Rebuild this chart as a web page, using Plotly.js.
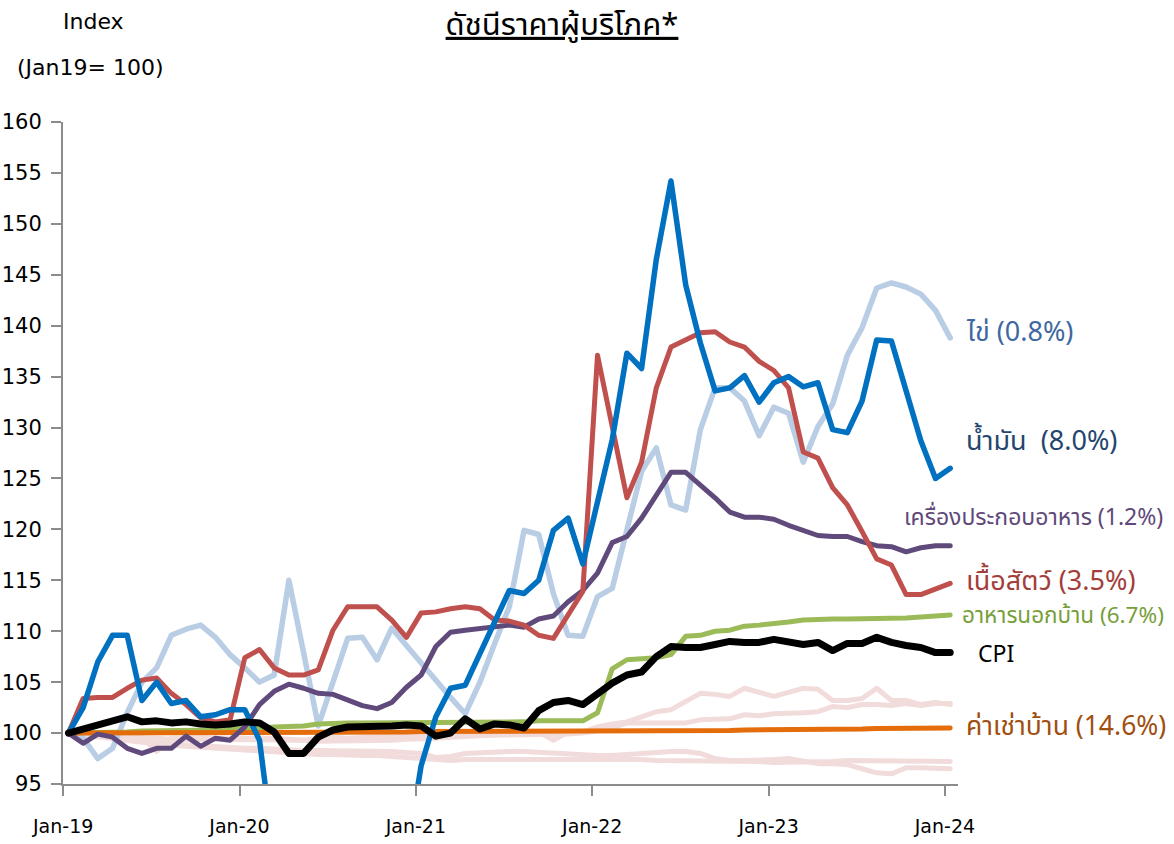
<!DOCTYPE html>
<html>
<head>
<meta charset="utf-8">
<script src="https://cdn.plot.ly/plotly-3.0.1.min.js"></script>
<style>
html,body{margin:0;padding:0;background:#fff;}
#chart{width:1174px;height:844px;}
#chart path.js-line{stroke-linejoin:round !important;stroke-linecap:round !important;}
</style>
</head>
<body>
<div id="chart"></div>
<script>
// ---- data (monthly, Jan-19 .. Jan-24), index Jan19 = 100 ----
const tickLabels = ['Jan-19','Jan-20','Jan-21','Jan-22','Jan-23','Jan-24'];

const cpi = [
 100.0,100.4,100.8,101.2,101.6,101.1,101.2,101.0,101.1,100.9,100.8,100.9,
 101.1,101.0,100.1,98.0,98.0,99.6,100.3,100.6,100.6,100.6,100.7,100.8,
 100.7,99.7,100.0,101.4,100.4,100.9,100.8,100.5,102.2,103.0,103.2,102.8,
 103.9,104.9,105.7,106.0,107.5,108.5,108.4,108.4,108.7,109.0,108.9,108.9,
 109.2,109.0,108.7,108.9,108.1,108.8,108.8,109.4,108.9,108.6,108.4,107.9,
 107.9];

const oil = [
 100.0,102.5,107.0,109.6,109.6,103.2,105.0,102.9,103.2,101.6,101.8,102.3,
 102.3,99.3,88.0,78.0,80.0,84.0,86.0,85.0,84.0,85.0,86.0,88.0,
 96.8,101.6,104.4,104.7,107.8,110.9,114.0,113.7,115.0,119.9,121.1,116.6,
 122.5,128.8,137.3,135.8,146.5,154.2,144.0,138.3,133.6,133.9,135.1,132.5,
 134.4,135.0,134.0,134.4,129.8,129.5,132.6,138.6,138.5,133.7,128.7,125.0,
 126.0];

const meat = [
 100.0,103.4,103.5,103.5,104.4,105.2,105.4,103.9,102.8,101.5,101.1,101.3,
 107.4,108.2,106.4,105.7,105.7,106.2,110.1,112.4,112.4,112.4,111.1,109.4,
 111.8,111.9,112.2,112.4,112.2,111.1,111.0,110.6,109.6,109.3,111.6,113.9,
 137.1,130.3,123.1,126.6,133.9,137.9,138.6,139.3,139.4,138.4,137.9,136.5,
 135.6,133.9,127.6,127.0,124.1,122.4,119.8,117.1,116.5,113.6,113.6,114.2,
 114.7];

const eggs = [
 100.0,99.5,97.5,98.5,102.0,105.0,106.4,109.6,110.2,110.6,109.4,107.7,
 106.4,105.0,105.7,115.0,107.9,100.7,105.0,109.3,109.4,107.2,110.3,108.6,
 106.8,105.0,103.5,101.9,105.0,108.8,112.4,119.9,119.5,113.7,109.6,109.5,
 113.4,114.2,120.0,125.7,128.0,122.4,121.9,129.8,133.9,133.9,132.6,129.2,
 132.0,131.4,126.6,130.1,132.3,137.1,139.8,143.7,144.2,143.8,143.1,141.5,
 138.8];

const seasoning = [
 100.0,99.0,99.9,99.6,98.5,98.0,98.5,98.5,99.7,98.7,99.5,99.3,
 100.6,102.8,104.1,104.8,104.4,103.9,103.8,103.2,102.7,102.4,103.0,104.5,
 105.7,108.5,109.9,110.1,110.3,110.5,110.6,110.4,111.2,111.5,112.9,114.0,
 115.7,118.7,119.3,121.1,123.4,125.6,125.6,124.4,123.1,121.7,121.2,121.2,
 121.0,120.4,119.9,119.4,119.3,119.3,118.8,118.4,118.3,117.8,118.2,118.4,
 118.4];

const foodAway = [
 100.0,100.0,100.1,100.1,100.1,100.2,100.2,100.2,100.3,100.3,100.3,100.4,
 100.4,100.5,100.6,100.6,100.7,100.9,101.0,101.0,101.0,101.0,101.0,101.0,
 101.0,101.0,101.0,101.1,101.1,101.1,101.1,101.1,101.2,101.2,101.2,101.2,
 102.0,106.3,107.2,107.3,107.4,107.7,109.5,109.6,110.0,110.1,110.5,110.6,
 110.7,110.9,111.1,111.2,111.2,111.2,111.2,111.2,111.2,111.3,111.4,111.5,
 111.6];

const rent = [
 100.0,100.0,100.0,100.0,100.05,100.05,100.05,100.05,100.05,100.1,100.1,100.1,
 100.1,100.1,100.1,100.1,100.1,100.1,100.1,100.1,100.1,100.1,100.1,100.1,
 100.15,100.15,100.15,100.15,100.15,100.15,100.15,100.15,100.15,100.15,100.15,100.15,
 100.15,100.15,100.2,100.2,100.2,100.2,100.2,100.25,100.25,100.25,100.3,100.3,
 100.3,100.3,100.35,100.35,100.4,100.4,100.4,100.45,100.45,100.5,100.5,100.5,
 100.5];

const otherA = [
 100.0,99.9,99.8,99.8,99.7,99.6,98.2,99.5,99.5,99.6,99.5,99.5,
 99.6,99.6,99.5,99.4,99.3,99.5,99.6,99.5,99.6,99.7,99.7,99.8,
 99.7,99.8,99.8,99.8,99.8,99.8,100.1,100.1,100.1,99.3,100.1,100.1,
 100.6,100.9,101.1,101.6,102.1,102.3,103.1,103.9,103.8,103.6,104.4,104.0,
 103.6,104.0,104.4,104.3,103.2,103.2,103.4,104.4,103.2,103.2,102.8,103.0,
 102.8];

const otherB = [
 100.0,99.8,99.7,99.6,99.6,99.5,99.5,99.4,99.4,99.4,99.4,99.3,
 99.3,99.3,99.3,99.3,99.3,99.2,99.2,99.2,99.3,99.3,99.3,99.4,
 99.4,99.5,99.6,99.7,99.7,99.8,99.8,99.8,99.9,99.9,99.9,100.0,
 100.2,100.5,101.0,101.0,101.0,101.0,101.0,101.3,101.4,101.4,101.8,101.7,
 101.9,101.9,102.0,102.1,102.6,102.5,102.8,102.8,102.7,102.9,102.7,102.9,
 102.9];

const otherC = [
 100.0,99.8,99.6,99.4,99.2,99.1,99.0,98.9,98.8,98.8,98.7,98.6,
 98.5,98.5,98.4,98.4,98.3,98.3,98.3,98.2,98.2,98.2,98.2,98.1,
 98.0,97.6,97.7,98.0,98.1,98.2,98.2,98.2,98.1,98.0,97.9,97.8,
 97.8,97.8,97.9,98.0,98.2,98.2,98.2,98.0,97.5,97.3,97.3,97.3,
 97.4,97.5,97.3,97.0,97.0,96.9,96.5,96.1,96.0,96.6,96.6,96.5,
 96.5];

const otherD = [
 100.0,99.9,99.7,99.5,99.3,99.1,98.9,98.8,98.7,98.6,98.5,98.4,
 98.3,98.2,98.1,98.0,98.0,97.9,97.9,97.8,97.8,97.8,97.7,97.7,
 97.6,97.5,97.3,97.4,97.4,97.5,97.5,97.5,97.5,97.5,97.5,97.5,
 97.5,97.4,97.4,97.4,97.3,97.3,97.3,97.3,97.3,97.2,97.2,97.2,
 97.1,97.1,97.2,97.2,97.2,97.3,97.3,97.3,97.3,97.3,97.2,97.2,
 97.2];

// ---- build chart ----
const months = cpi.map((_, i) => i);   // month index from Jan-19
const tickPos = tickLabels.map((_, k) => 12 * k - 0.36);

function line(y, color, width) {
  return {x: months, y: y, type: 'scatter', mode: 'lines', hoverinfo: 'skip',
          line: {color: color, width: width, shape: 'linear'}};
}

const pink = '#F2DCDB';
const traces = [
  line(otherD, pink, 5),
  line(otherC, pink, 5),
  line(otherB, pink, 5),
  line(otherA, pink, 5),
  line(eggs, '#B9CDE5', 5.5),
  line(foodAway, '#9BBB59', 5),
  line(rent, '#E46C0A', 5),
  line(seasoning, '#604A7B', 5),
  line(meat, '#C0504D', 5),
  line(oil, '#0070C0', 5.5),
  line(cpi, '#000000', 7)
];

const PL = 63, PR = 958, PT = 122, PB = 784;
const px = v => (v - PL) / (PR - PL);
const py = v => (PB - v) / (PB - PT);

const thai = 'Tahoma, "Noto Sans Thai", "Noto Sans", "DejaVu Sans", sans-serif';
function lab(text, left, yc, color, size) {
  return {text: text, xref: 'paper', yref: 'paper', x: px(left), y: py(yc),
          xanchor: 'left', yanchor: 'middle', showarrow: false,
          font: {family: thai, size: size, color: color}};
}

const layout = {
  width: 1174, height: 844,
  margin: {l: PL, r: 1174 - PR, t: PT, b: 844 - PB, pad: 0},
  paper_bgcolor: '#ffffff', plot_bgcolor: '#ffffff',
  showlegend: false,
  font: {family: '"DejaVu Sans", Verdana, sans-serif', color: '#000'},
  title: {text: '<u>ดัชนีราคาผู้บริโภค*</u>', xref: 'container', yref: 'container',
          x: 562 / 1174, y: 1 - 24 / 844, xanchor: 'center', yanchor: 'middle',
          font: {family: thai, size: 31, color: '#000'}},
  xaxis: {
    range: [-0.37, 60.53], showgrid: false, zeroline: false,
    showline: true, linecolor: '#8C8C8C', linewidth: 2,
    ticks: 'outside', ticklen: 10, tickwidth: 2, tickcolor: '#8C8C8C',
    tickmode: 'array', tickvals: tickPos, ticktext: tickLabels,
    ticklabelstandoff: 14,
    tickfont: {family: '"DejaVu Sans", Verdana, sans-serif', size: 19, color: '#000'}
  },
  yaxis: {
    range: [95, 160], dtick: 5, tick0: 95, showgrid: false, zeroline: false,
    showline: true, linecolor: '#8C8C8C', linewidth: 2,
    ticks: 'outside', ticklen: 10, tickwidth: 2, tickcolor: '#8C8C8C',
    ticklabelstandoff: 5,
    tickfont: {family: '"DejaVu Sans", Verdana, sans-serif', size: 21, color: '#000'}
  },
  annotations: [
    {text: 'Index', xref: 'paper', yref: 'paper', x: px(93), y: py(22),
     xanchor: 'center', yanchor: 'middle', showarrow: false,
     font: {family: '"DejaVu Sans", sans-serif', size: 22, color: '#000'}},
    {text: '(Jan19= 100)', xref: 'paper', yref: 'paper', x: px(90), y: py(67),
     xanchor: 'center', yanchor: 'middle', showarrow: false,
     font: {family: '"DejaVu Sans", sans-serif', size: 22, color: '#000'}},
    lab('ไข่ (0.8%)', 964, 332, '#4068A0', 27),
    lab('น้ำมัน  (8.0%)', 964, 441, '#24456E', 27),
    lab('เครื่องประกอบอาหาร (1.2%)', 902, 518, '#5F497A', 23),
    lab('เนื้อสัตว์ (3.5%)', 964, 581, '#A33E3A', 27),
    lab('อาหารนอกบ้าน (6.7%)', 960, 616, '#77A03A', 22.5),
    lab('CPI', 976, 655, '#000000', 23),
    lab('ค่าเช่าบ้าน (14.6%)', 964, 727, '#A04F10', 26.5)
  ]
};

Plotly.newPlot('chart', traces, layout, {displayModeBar: false, staticPlot: true});
</script>
</body>
</html>
